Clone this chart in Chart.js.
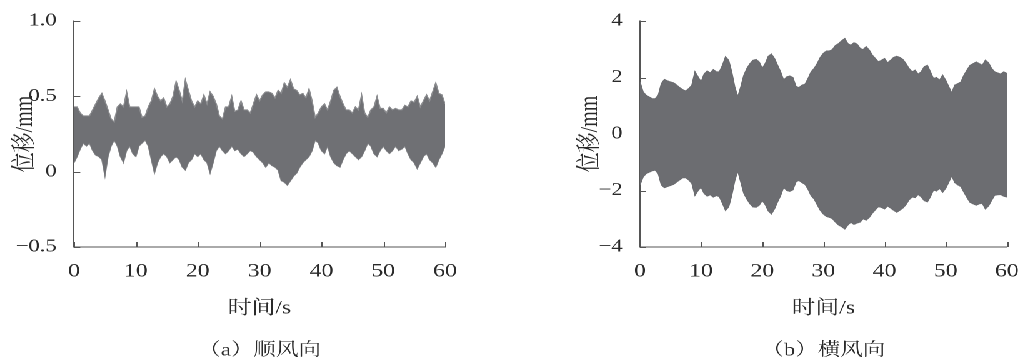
<!DOCTYPE html>
<html>
<head>
<meta charset="utf-8">
<script src="https://cdn.jsdelivr.net/npm/chart.js@4/dist/chart.umd.min.js"></script>
<style>
  html, body { margin: 0; padding: 0; background: #fff; overflow: hidden; }
  #wrap {
    position: absolute; left: 0; top: 0; width: 820px; height: 360px;
    transform: scaleX(1.25); transform-origin: 0 0;
  }
  #wrap canvas { position: absolute; top: 0; }
  #chartA { left: 0; }
  #chartB { left: 410px; }
</style>
</head>
<body>
<div id="wrap">
  <canvas id="chartA" width="410" height="360"></canvas>
  <canvas id="chartB" width="410" height="360"></canvas>
</div>
<script>
// sampling grid, 0.5 s
const timeS = Array.from({ length: 121 }, (_, i) => i * 0.5);

// (a) along-wind displacement, upper / lower envelope (mm)
const upperA = [
  0.43,0.43,0.39,0.37,0.37,0.37,0.41,0.45,0.49,0.52,
  0.47,0.41,0.35,0.33,0.43,0.45,0.43,0.53,0.43,0.43,
  0.43,0.43,0.36,0.37,0.43,0.47,0.55,0.50,0.47,0.49,
  0.43,0.45,0.50,0.60,0.54,0.47,0.61,0.54,0.47,0.43,
  0.47,0.45,0.51,0.45,0.53,0.50,0.45,0.37,0.35,0.43,
  0.43,0.50,0.40,0.41,0.47,0.41,0.41,0.39,0.45,0.51,
  0.47,0.51,0.53,0.53,0.52,0.49,0.54,0.52,0.59,0.56,
  0.61,0.55,0.54,0.51,0.52,0.49,0.55,0.47,0.36,0.39,
  0.43,0.45,0.41,0.47,0.54,0.56,0.50,0.45,0.41,0.41,
  0.39,0.43,0.41,0.51,0.39,0.36,0.41,0.43,0.50,0.42,
  0.42,0.39,0.43,0.41,0.42,0.41,0.41,0.44,0.43,0.47,
  0.46,0.50,0.43,0.47,0.51,0.47,0.53,0.59,0.52,0.51,
  0.45
];
const lowerA = [
  0.06,0.10,0.15,0.19,0.17,0.19,0.14,0.11,0.10,0.08,
  -0.03,0.10,0.17,0.21,0.17,0.10,0.06,0.14,0.17,0.12,
  0.10,0.17,0.19,0.21,0.17,0.08,-0.01,0.06,0.10,0.12,
  0.10,0.06,0.08,0.10,0.08,0.03,0.01,0.06,0.08,0.12,
  0.10,0.12,0.08,0.06,-0.01,0.06,0.14,0.17,0.14,0.12,
  0.14,0.17,0.14,0.15,0.12,0.10,0.12,0.14,0.13,0.10,
  0.08,0.06,0.03,0.06,0.04,0.03,0.01,-0.06,-0.07,-0.09,
  -0.06,-0.03,-0.01,0.03,0.06,0.08,0.10,0.14,0.21,0.19,
  0.14,0.12,0.17,0.10,0.06,0.04,0.03,0.08,0.12,0.14,
  0.12,0.10,0.08,0.10,0.14,0.19,0.17,0.12,0.10,0.14,
  0.17,0.14,0.12,0.14,0.17,0.14,0.15,0.17,0.12,0.08,
  0.06,0.02,0.06,0.10,0.12,0.08,0.06,0.03,0.08,0.12,
  0.17
];

// (b) cross-wind displacement, upper / lower envelope (mm)
const upperB = [
  1.84,1.49,1.37,1.31,1.25,1.25,1.37,1.78,1.93,1.88,
  1.84,1.81,1.73,1.64,1.57,1.52,1.61,1.73,2.20,2.02,
  1.84,2.12,2.23,2.16,2.28,2.20,2.20,2.43,2.73,2.61,
  2.20,1.67,1.31,1.67,2.08,2.32,2.49,2.61,2.64,2.55,
  2.32,2.49,2.75,2.83,2.67,2.43,2.20,1.90,2.02,2.05,
  2.00,1.69,1.64,1.73,1.76,1.96,2.20,2.32,2.49,2.71,
  2.85,2.94,2.94,2.99,3.14,3.20,3.30,3.38,3.20,3.14,
  3.23,3.18,3.03,2.99,3.09,2.97,2.79,2.67,2.55,2.61,
  2.67,2.52,2.61,2.71,2.75,2.71,2.64,2.49,2.32,2.20,
  2.26,2.12,2.20,2.38,2.43,2.20,1.96,2.00,1.90,2.08,
  1.90,1.67,1.45,1.73,1.78,1.84,2.08,2.26,2.43,2.49,
  2.55,2.49,2.43,2.61,2.52,2.32,2.20,2.16,2.12,2.20,
  2.14
];
const lowerB = [
  -1.80,-1.52,-1.40,-1.35,-1.30,-1.28,-1.40,-1.80,-1.90,-1.86,
  -1.82,-1.78,-1.70,-1.62,-1.55,-1.55,-1.63,-1.75,-2.17,-2.00,
  -1.88,-2.10,-2.20,-2.15,-2.23,-2.18,-2.22,-2.45,-2.70,-2.58,
  -2.18,-1.65,-1.30,-1.70,-2.10,-2.30,-2.47,-2.58,-2.59,-2.52,
  -2.35,-2.50,-2.72,-2.83,-2.65,-2.40,-2.18,-1.88,-2.00,-2.03,
  -1.98,-1.70,-1.64,-1.72,-1.78,-1.95,-2.18,-2.30,-2.50,-2.70,
  -2.83,-2.92,-2.95,-3.00,-3.12,-3.22,-3.28,-3.36,-3.22,-3.12,
  -3.20,-3.15,-3.12,-3.00,-3.05,-2.95,-2.80,-2.68,-2.57,-2.60,
  -2.65,-2.55,-2.62,-2.70,-2.77,-2.70,-2.62,-2.50,-2.33,-2.23,
  -2.25,-2.14,-2.22,-2.36,-2.40,-2.22,-1.98,-2.02,-1.92,-2.06,
  -1.92,-1.70,-1.47,-1.72,-1.80,-1.86,-2.06,-2.25,-2.42,-2.47,
  -2.52,-2.47,-2.45,-2.65,-2.55,-2.35,-2.17,-2.15,-2.14,-2.20,
  -2.23
];

// ticks
const xTicks = [0, 10, 20, 30, 40, 50, 60];
const yTicksA = [-0.5, 0, 0.5, 1.0];
const yLabelsA = ["\u22120.5", "0", "0.5", "1.0"];
const yTicksB = [-4, -2, 0, 2, 4];
const yLabelsB = ["\u22124", "\u22122", "0", "2", "4"];

const serif = '"Liberation Serif", "Times New Roman", "Noto Serif CJK SC", "Noto Sans CJK SC", serif';
const textColor = "#2a2a2a";
const axisColor = "#555";

// small ticks pointing into the plot
const inwardTicks = {
  id: "inwardTicks",
  beforeDatasetsDraw(chart) {
    const { ctx, chartArea, scales } = chart;
    ctx.save();
    ctx.strokeStyle = axisColor;
    ctx.lineWidth = 1;
    ctx.beginPath();
    scales.x.ticks.forEach(t => {
      const px = Math.round(scales.x.getPixelForValue(t.value)) + 0.5;
      ctx.moveTo(px, chartArea.bottom);
      ctx.lineTo(px, chartArea.bottom - 5);
    });
    scales.y.ticks.forEach(t => {
      const py = Math.round(scales.y.getPixelForValue(t.value)) + 0.5;
      ctx.moveTo(chartArea.left, py);
      ctx.lineTo(chartArea.left + 5, py);
    });
    ctx.stroke();
    ctx.restore();
  }
};

function makeChart(id, upper, lower, yMin, yMax, yTicks, yLabels, pad, caption, fillColor, edgeColor) {
  return new Chart(document.getElementById(id), {
    type: "line",
    data: {
      datasets: [
        {
          data: timeS.map((t, i) => ({ x: t, y: upper[i] })),
          borderColor: edgeColor,
          borderWidth: 1,
          backgroundColor: fillColor,
          fill: "+1",
          pointRadius: 0,
          tension: 0
        },
        {
          data: timeS.map((t, i) => ({ x: t, y: lower[i] })),
          borderColor: edgeColor,
          borderWidth: 1,
          fill: false,
          pointRadius: 0,
          tension: 0
        }
      ]
    },
    options: {
      responsive: false,
      animation: false,
      devicePixelRatio: 2,
      layout: { padding: { top: 21, bottom: 0, left: pad.left, right: pad.right } },
      plugins: {
        legend: { display: false },
        tooltip: { enabled: false },
        title: {
          display: true,
          position: "bottom",
          fullSize: false,
          text: caption,
          color: textColor,
          font: { family: serif, size: 18, weight: "normal", lineHeight: 1 },
          padding: 0
        }
      },
      scales: {
        x: {
          type: "linear",
          min: 0,
          max: 60,
          afterBuildTicks: s => { s.ticks = xTicks.map(v => ({ value: v })); },
          afterFit: s => { s.height = 95; },
          grid: { display: false },
          border: { display: true, color: axisColor, width: 1 },
          ticks: {
            padding: 5,
            color: textColor,
            font: { family: serif, size: 19 },
            maxRotation: 0
          },
          title: {
            display: true,
            text: "时间/s",
            color: textColor,
            font: { family: serif, size: 19 },
            padding: { top: 0, bottom: 22 }
          }
        },
        y: {
          min: yMin,
          max: yMax,
          afterBuildTicks: s => { s.ticks = yTicks.map(v => ({ value: v })); },
          afterFit: s => { s.width = pad.yWidth; },
          grid: { display: false },
          border: { display: true, color: axisColor, width: 1 },
          ticks: {
            padding: 6,
            color: textColor,
            font: { family: serif, size: 18 },
            callback: (v, i) => yLabels[i]
          },
          title: {
            display: true,
            text: "位移/mm",
            color: textColor,
            font: { family: serif, size: 20 },
            padding: { top: 8, bottom: 0 }
          }
        }
      }
    },
    plugins: [inwardTicks]
  });
}

function drawAll() {
  makeChart("chartA", upperA, lowerA, -0.5, 1.0, yTicksA, yLabelsA,
    { left: 0, right: 54, yWidth: 59.2 }, "（a）顺风向", "#6f7074", "#8b8c8f");
  makeChart("chartB", upperB, lowerB, -4, 4, yTicksB, yLabelsB,
    { left: 42, right: 8.8, yWidth: 60 }, "（b）横风向", "#6c6d71", "#6c6d71");
}

Promise.all([
  document.fonts.load('18px "Liberation Serif"'),
  document.fonts.load('18px "Noto Sans CJK SC"', "位移时间顺横风向")
]).then(drawAll, drawAll);
</script>
</body>
</html>
